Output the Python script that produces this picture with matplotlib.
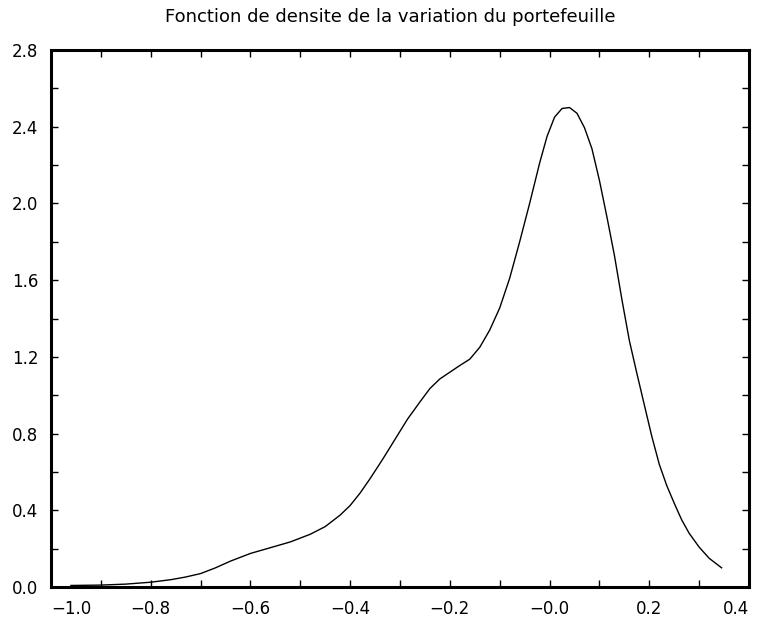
import matplotlib
matplotlib.use("Agg")
import matplotlib.pyplot as plt
from matplotlib.ticker import MultipleLocator

# Portfolio variation values and estimated density
variation = [-0.96, -0.90, -0.85, -0.80, -0.76, -0.73, -0.70, -0.67, -0.64, -0.60,
             -0.56, -0.52, -0.48, -0.45, -0.42, -0.40, -0.38, -0.36, -0.335, -0.31,
             -0.285, -0.26, -0.24, -0.22, -0.20, -0.18, -0.16, -0.14, -0.12, -0.10,
             -0.08, -0.06, -0.04, -0.02, -0.005, 0.01, 0.025, 0.04, 0.055, 0.07,
             0.085, 0.10, 0.115, 0.13, 0.145, 0.16, 0.175, 0.19, 0.205, 0.22,
             0.235, 0.25, 0.265, 0.28, 0.30, 0.32, 0.345]
density = [0.008, 0.010, 0.015, 0.025, 0.038, 0.052, 0.070, 0.100, 0.135, 0.175,
           0.205, 0.235, 0.275, 0.315, 0.375, 0.425, 0.490, 0.565, 0.665, 0.770,
           0.875, 0.965, 1.035, 1.085, 1.120, 1.155, 1.188, 1.250, 1.340, 1.455,
           1.610, 1.800, 2.000, 2.210, 2.350, 2.450, 2.495, 2.500, 2.470, 2.395,
           2.285, 2.120, 1.930, 1.730, 1.500, 1.285, 1.115, 0.950, 0.786, 0.640,
           0.529, 0.437, 0.350, 0.280, 0.208, 0.150, 0.100]

x_ticks = [-1.0, -0.8, -0.6, -0.4, -0.2, 0.0, 0.2, 0.4]
x_labels = ["\u22121.0", "\u22120.8", "\u22120.6", "\u22120.4", "\u22120.2", "\u22120.0", "0.2", "0.4"]
y_ticks = [0.0, 0.4, 0.8, 1.2, 1.6, 2.0, 2.4, 2.8]
y_labels = ["0.0", "0.4", "0.8", "1.2", "1.6", "2.0", "2.4", "2.8"]
title = "Fonction de densite de la variation du portefeuille"

plt.rcParams["font.family"] = ["DejaVu Sans"]

fig = plt.figure(figsize=(7.65, 6.19), dpi=100)
ax = fig.add_axes([51 / 765, 1 - 587 / 619, (749 - 51) / 765, (587 - 50) / 619])

ax.plot(variation, density, color="black", linewidth=1.0)

ax.set_xlim(-1.0, 0.4)
ax.set_ylim(0.0, 2.8)

ax.set_xticks(x_ticks)
ax.set_xticklabels(x_labels)
ax.set_yticks(y_ticks)
ax.set_yticklabels(y_labels)
ax.xaxis.set_minor_locator(MultipleLocator(0.1))
ax.yaxis.set_minor_locator(MultipleLocator(0.2))

labs = ax.get_xticklabels()
labs[0].set_horizontalalignment("left")
labs[-1].set_horizontalalignment("right")

for which in ("major", "minor"):
    ax.tick_params(axis="both", which=which, direction="in", length=5, width=1.0,
                   top=True, right=True, color="black")
ax.tick_params(axis="both", which="major", labelsize=12, labelcolor="black")
ax.tick_params(axis="x", which="major", pad=9)
ax.tick_params(axis="y", which="major", pad=9)

for sp in ax.spines.values():
    sp.set_linewidth(2.2)
    sp.set_color("black")

fig.text(0.5 * (153 + 627) / 765, 1 - 17 / 619, title, ha="center", va="center",
         fontsize=13, color="black")

fig.savefig("out.png", dpi=100)
